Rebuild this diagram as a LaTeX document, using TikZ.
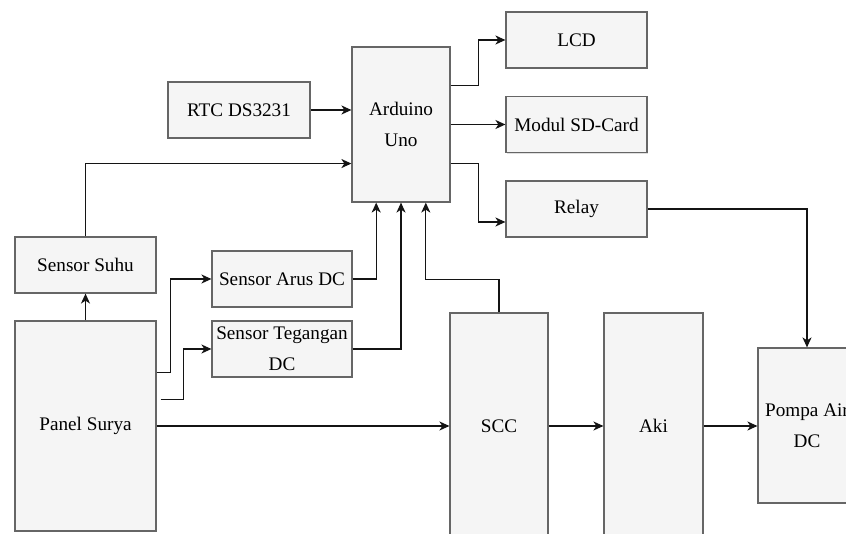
\documentclass[tikz,border=0pt]{standalone}
\usepackage{fontspec}
\setmainfont{Liberation Serif}
\usetikzlibrary{arrows.meta,calc,shadows}
\definecolor{isiblok}{HTML}{F5F5F5}
\definecolor{garisblok}{HTML}{666666}
\definecolor{garis}{HTML}{141414}

\begin{document}
\begin{tikzpicture}[x=0.75pt,y=-0.75pt,
  blok/.style={draw=garisblok,fill=isiblok,line width=0.9pt,inner sep=0pt,
    align=center,font=\fontsize{14.4}{23}\selectfont\rmfamily,
    drop shadow={shadow xshift=1.1pt,shadow yshift=-1.1pt,opacity=0.25}},
  kecil/.style={blok,minimum width=105.75pt,minimum height=42pt},
  tinggi/.style={blok,minimum width=73.5pt,minimum height=#1},
  hub/.style={draw=garis,line width=1pt,-{Stealth[length=7.5pt,width=6.8pt,inset=2.2pt]}}]
  \useasboundingbox (0,0) rectangle (846,534);

  % Pengendali dan keluaran.
  \node[tinggi=116.25pt] (ard) at (401,124.5) {Arduino\\Uno};
  \node[kecil,minimum width=106.5pt] (rtc) at (239,110) {RTC DS3231};
  \node[kecil] (lcd) at (576.5,40) {LCD};
  \node[kecil] (sd) at (576.5,124.5) {Modul SD-Card};
  \node[kecil] (rl) at (576.5,209) {Relay};

  % Sensor dan sumber daya.
  \node[kecil] (sh) at (85.5,265) {Sensor Suhu};
  \node[kecil,minimum width=105pt] (ar) at (282,279) {Sensor Arus DC};
  \node[kecil,minimum width=105pt] (tg) at (282,349) {Sensor Tegangan\\DC};
  \node[kecil,minimum height=157.5pt] (pv) at (85.5,426) {Panel Surya};
  \node[tinggi=169.5pt] (scc) at (499,426) {SCC};
  \node[tinggi=169.5pt,minimum width=74.25pt] (aki) at (653.5,426) {Aki};
  \node[tinggi=116.25pt] (pm) at (807,425.5) {Pompa Air\\DC};

  % Masukan ke Arduino.
  \draw[hub] (rtc.east) -- (rtc.east -| ard.west);
  \draw[hub] (sh.north) |- ($(ard.north west)!0.75!(ard.south west)$);
  \draw[hub] (ar.east) -| ($(ard.south west)!0.25!(ard.south east)$);
  \draw[hub] (tg.east) -| (ard.south);
  \draw[hub] (scc.north) -- ++(0,-33) -| ($(ard.south west)!0.75!(ard.south east)$);

  % Keluaran Arduino.
  \draw[hub] ($(ard.north east)!0.25!(ard.south east)$) -- ++(28,0) |- (lcd.west);
  \draw[hub] (ard.east) -- (sd.west);
  \draw[hub] ($(ard.north east)!0.75!(ard.south east)$) -- ++(28,0) |- ($(rl.west)+(0,13)$);
  \draw[hub] (rl.east) -| (pm.north);

  % Jalur daya dari panel.
  \draw[hub] (pv) -- (sh);
  \draw[hub] ($(pv.north east)+(0,52)$) -- ++(14,0) |- (ar.west);
  \draw[hub] ($(pv.north east)+(4,79)$) -- ++(23,0) |- (tg.west);
  \draw[hub] (pv) -- (scc);
  \draw[hub] (scc) -- (aki);
  \draw[hub] (aki.east) -- (aki.east -| pm.west);
\end{tikzpicture}
\end{document}
